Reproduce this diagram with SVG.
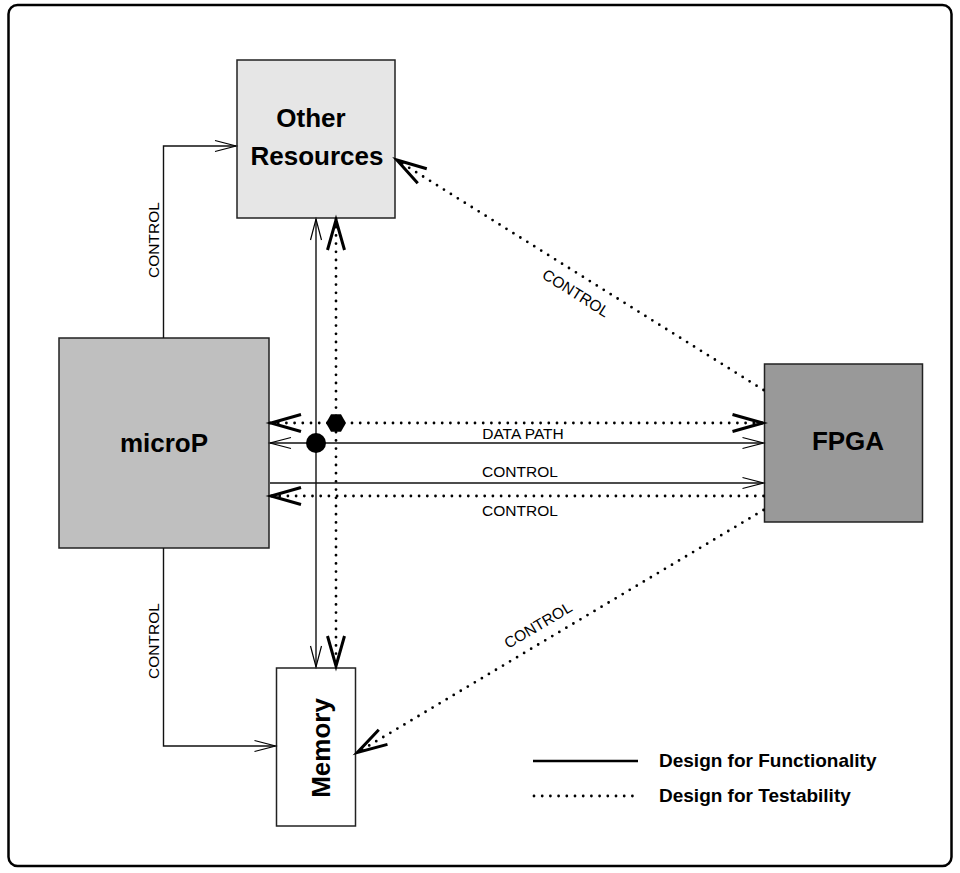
<svg xmlns="http://www.w3.org/2000/svg" width="960" height="873" viewBox="0 0 960 873">
<style>
.frame{fill:#fff;stroke:#000;stroke-width:2.5}
.box{stroke:#222;stroke-width:1.5}
.big{font-family:"Liberation Sans",Arial,sans-serif;font-weight:bold;font-size:26px;fill:#000;text-anchor:middle}
.lbl{font-family:"Liberation Sans",Arial,sans-serif;font-size:15.5px;fill:#000;text-anchor:middle}
.leg{font-family:"Liberation Sans",Arial,sans-serif;font-weight:bold;font-size:19px;fill:#000}
.solid{fill:none;stroke:#111;stroke-width:1.4}
.dot{fill:none;stroke:#000;stroke-width:2.8;stroke-dasharray:0 8.2;stroke-linecap:round}
.mthin{fill:none;stroke:#000;stroke-width:1.2}
.mthick{fill:none;stroke:#000;stroke-width:3}
</style>
<defs>
<marker id="thin" markerUnits="userSpaceOnUse" viewBox="-24 -8 26 16" refX="0" refY="0" markerWidth="26" markerHeight="16" orient="auto-start-reverse" overflow="visible">
<path class="mthin" d="M-21,-5.5 L0,0 L-21,5.5"/>
</marker>
<marker id="thick" markerUnits="userSpaceOnUse" viewBox="-34 -11 36 22" refX="0" refY="0" markerWidth="36" markerHeight="22" orient="auto-start-reverse" overflow="visible">
<path class="mthick" d="M-31,-8.5 L-1,0 L-31,8.5"/>
</marker>
</defs>
<rect class="frame" x="8.5" y="5" width="943" height="861" rx="9"/>

<g id="other">
<rect class="box" x="237" y="60" width="158" height="158" fill="#e6e6e6"/>
<text class="big" x="311" y="127">Other</text>
<text class="big" x="317" y="165">Resources</text>
</g>
<g id="microP">
<rect class="box" x="59" y="338" width="210" height="210" fill="#bfbfbf"/>
<text class="big" x="164" y="452">microP</text>
</g>
<g id="fpga">
<rect class="box" x="764.5" y="364" width="158" height="158" fill="#999999"/>
<text class="big" x="848" y="450">FPGA</text>
</g>
<g id="memory">
<rect class="box" x="276.5" y="668" width="79" height="158" fill="#fff"/>
<text class="big" transform="translate(329.5,748) rotate(-90)">Memory</text>
</g>

<g id="connectors">
<path class="solid" d="M163.5,338 V146 H236" marker-end="url(#thin)"/>
<path class="solid" d="M163.5,548 V746 H275.5" marker-end="url(#thin)"/>
<path class="solid" d="M316,219 V667" marker-start="url(#thin)" marker-end="url(#thin)"/>
<path class="dot" d="M336,219 V667" marker-start="url(#thick)" marker-end="url(#thick)"/>
<path class="dot" d="M270,423 H763.5" marker-start="url(#thick)" marker-end="url(#thick)"/>
<path class="solid" d="M270,443 H763.5" marker-start="url(#thin)" marker-end="url(#thin)"/>
<path class="solid" d="M270,483 H763.5" marker-end="url(#thin)"/>
<path class="dot" d="M763.5,496 H270" marker-end="url(#thick)"/>
<path class="dot" d="M763.5,390 L396,159.5" marker-end="url(#thick)"/>
<path class="dot" d="M763.5,510 L356.5,753" marker-end="url(#thick)"/>
<circle cx="316" cy="443" r="10" fill="#000"/>
<polygon points="346,423 341,431.7 331,431.7 326,423 331,414.3 341,414.3" fill="#000"/>
<text class="lbl" transform="translate(158.5,240) rotate(-90)">CONTROL</text>
<text class="lbl" transform="translate(158.5,641) rotate(-90)">CONTROL</text>
<text class="lbl" x="523" y="439">DATA PATH</text>
<text class="lbl" x="520" y="477">CONTROL</text>
<text class="lbl" x="520" y="516">CONTROL</text>
<text class="lbl" transform="translate(576,293) rotate(32.3)" y="5.5">CONTROL</text>
<text class="lbl" transform="translate(538,625) rotate(-30.7)" y="5.5">CONTROL</text>
</g>

<g id="legend">
<line x1="533" y1="761" x2="638" y2="761" stroke="#000" stroke-width="2.5"/>
<line class="dot" x1="534" y1="796" x2="638" y2="796"/>
<text class="leg" x="659" y="767">Design for Functionality</text>
<text class="leg" x="659" y="802">Design for Testability</text>
</g>
</svg>
